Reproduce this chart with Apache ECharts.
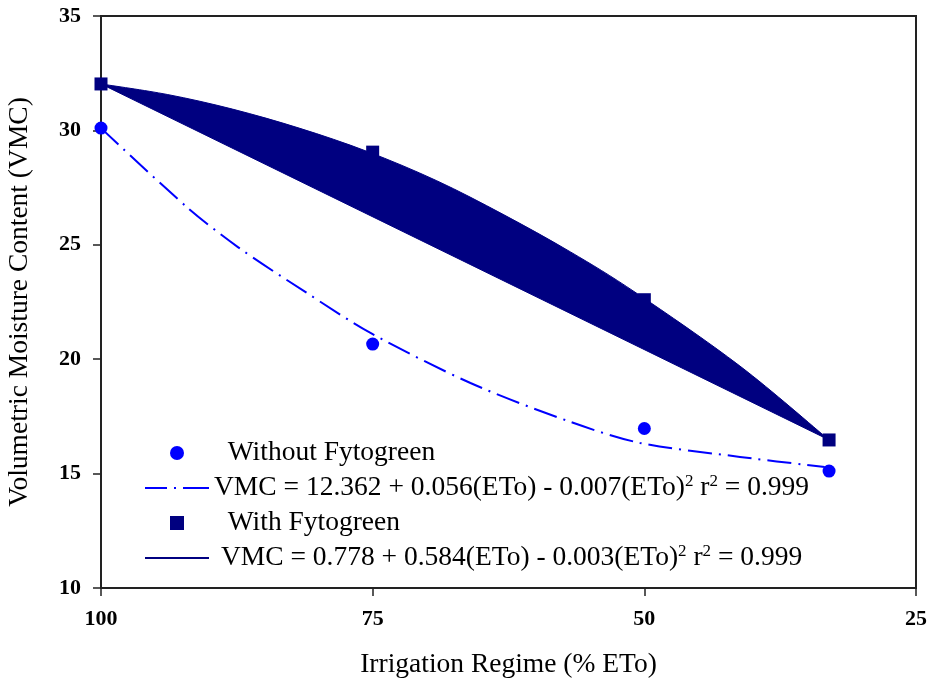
<!DOCTYPE html>
<html>
<head>
<meta charset="utf-8">
<script src="https://cdn.jsdelivr.net/npm/echarts@6/dist/echarts.min.js"></script>
<style>
html,body{margin:0;padding:0;background:#fff;}
#chart{width:930px;height:685px;}
</style>
</head>
<body>
<div id="chart"></div>
<script>
// Tick labels
const xTicks = [100, 75, 50, 25];
const yTicks = [10, 15, 20, 25, 30, 35];

// Observed points (Irrigation regime % ETo vs VMC)
const regime = [100, 75, 50, 33];
const vmcWithout = [30.1, 20.66, 16.97, 15.11];
const vmcWith = [32.03, 29.05, 22.6, 16.47];

// Fitted curve: without Fytogreen (dash-dot)
const fitWithoutX = [100, 92.1, 87.4, 81.2, 75.2, 66.0, 56.8, 50.4, 41.2, 33.4];
const fitWithoutY = [30.1, 26.65, 24.9, 22.94, 21.15, 18.96, 17.26, 16.34, 15.73, 15.29];

// Fitted curve: with Fytogreen (filled to chord)
const fitWithX = [100, 93.9, 87.9, 81.7, 75.5, 69.1, 63.0, 56.8, 50.7, 41.2, 33.0];
const fitWithY = [32.03, 31.57, 30.93, 30.09, 29.08, 27.8, 26.33, 24.69, 22.88, 19.7, 16.47];

const nameWithout = 'Without Fytogreen';
const nameWith = 'With Fytogreen';
const nameFitWithout = 'VMC = 12.362 + 0.056(ETo) - 0.007(ETo)^2 r^2 = 0.999';
const nameFitWith = 'VMC = 0.778 + 0.584(ETo) - 0.003(ETo)^2 r^2 = 0.999';

const blue = '#0000FF';
const navy = '#000080';
const serif = '"Liberation Serif", "Times New Roman", serif';

const chart = echarts.init(document.getElementById('chart'), null, {renderer: 'canvas'});

const pad = {};
pad[nameWithout] = '  ';
pad[nameWith] = '  ';
pad[nameFitWithout] = '';
pad[nameFitWith] = ' ';

// Smooth path (Catmull-Rom -> cubic Bezier) through pixel points, closed with a straight chord
function smoothClosedPath(pts) {
  let d = 'M' + pts[0][0] + ',' + pts[0][1];
  for (let i = 0; i < pts.length - 1; i++) {
    const p0 = pts[i - 1] || pts[i];
    const p1 = pts[i];
    const p2 = pts[i + 1];
    const p3 = pts[i + 2] || pts[i + 1];
    const c1x = p1[0] + (p2[0] - p0[0]) / 6, c1y = p1[1] + (p2[1] - p0[1]) / 6;
    const c2x = p2[0] - (p3[0] - p1[0]) / 6, c2y = p2[1] - (p3[1] - p1[1]) / 6;
    d += 'C' + c1x + ',' + c1y + ' ' + c2x + ',' + c2y + ' ' + p2[0] + ',' + p2[1];
  }
  d += 'Z';
  return d;
}

const option = {
  animation: false,
  backgroundColor: '#fff',
  grid: {left: 101, right: 14, top: 16, bottom: 97, containLabel: false, outerBoundsMode: 'none',
    show: true, borderColor: '#222', borderWidth: 2, backgroundColor: 'transparent'},
  xAxis: {
    type: 'value', inverse: true, min: 25, max: 100, interval: 25,
    name: 'Irrigation Regime (% ETo)', nameLocation: 'middle', nameGap: 63,
    nameTextStyle: {fontFamily: serif, fontSize: 27.5, color: '#000'},
    axisLine: {show: true, lineStyle: {color: '#222', width: 2}},
    axisTick: {show: true, inside: false, length: 8, lineStyle: {color: '#222', width: 1.5}},
    axisLabel: {fontFamily: serif, fontSize: 22, fontWeight: 'bold', color: '#000', margin: 20,
      formatter: v => xTicks.includes(v) ? String(v) : ''},
    splitLine: {show: false}
  },
  yAxis: {
    type: 'value', min: 10, max: 35, interval: 5,
    name: 'Volumetric Moisture Content (VMC)', nameLocation: 'middle', nameGap: 67,
    nameTextStyle: {fontFamily: serif, fontSize: 27.5, color: '#000'},
    axisLine: {show: true, lineStyle: {color: '#222', width: 2}},
    axisTick: {show: true, inside: false, length: 8, lineStyle: {color: '#222', width: 1.5}},
    axisLabel: {fontFamily: serif, fontSize: 22, fontWeight: 'bold', color: '#000', margin: 20,
      formatter: v => yTicks.includes(v) ? String(v) : ''},
    splitLine: {show: false}
  },
  legend: {
    orient: 'vertical', left: 145, top: 438, padding: 0,
    itemWidth: 64, itemHeight: 14, itemGap: 5,
    symbolKeepAspect: true,
    textStyle: {fontFamily: serif, fontSize: 27.5, color: '#000', lineHeight: 30,
      rich: {sup: {fontFamily: serif, fontSize: 17, color: '#000', verticalAlign: 'top', lineHeight: 30, padding: [0, 0, 12, 0]}}},
    formatter: name => pad[name] + name.replace(/\^2/g, '{sup|2}'),
    data: [
      {name: nameWithout, icon: 'circle'},
      {name: nameFitWithout, icon: 'path://M0,0h22v2h-22z M29,0h2v2h-2z M38,0h26v2h-26z'},
      {name: nameWith, icon: 'path://M0,0h13v13h-13z'},
      {name: nameFitWith, icon: 'path://M0,0h64v2h-64z'}
    ]
  },
  series: [
    {
      name: nameFitWith, type: 'custom', z: 2,
      itemStyle: {color: navy},
      data: fitWithX.map((x, i) => [x, fitWithY[i]]),
      encode: {x: 0, y: 1},
      renderItem: (params, api) => {
        if (params.dataIndex !== 0) return null;
        const pts = fitWithX.map((x, i) => api.coord([x, fitWithY[i]]));
        return {type: 'path', shape: {pathData: smoothClosedPath(pts)}, style: {fill: navy, stroke: navy, lineWidth: 1}};
      }
    },
    {
      name: nameFitWithout, type: 'line', z: 3, smooth: 0.3, showSymbol: false, symbol: 'none',
      itemStyle: {color: blue},
      lineStyle: {color: blue, width: 2, type: [24, 7, 2, 7]},
      data: fitWithoutX.map((x, i) => [x, fitWithoutY[i]])
    },
    {
      name: nameWithout, type: 'scatter', z: 4, symbol: 'circle', symbolSize: 13, clip: false,
      itemStyle: {color: blue, opacity: 1},
      data: regime.map((x, i) => [x, vmcWithout[i]])
    },
    {
      name: nameWith, type: 'scatter', z: 4, symbol: 'rect', symbolSize: 13, clip: false,
      itemStyle: {color: navy, opacity: 1},
      data: regime.map((x, i) => [x, vmcWith[i]])
    }
  ]
};
chart.setOption(option);
</script>
</body>
</html>
